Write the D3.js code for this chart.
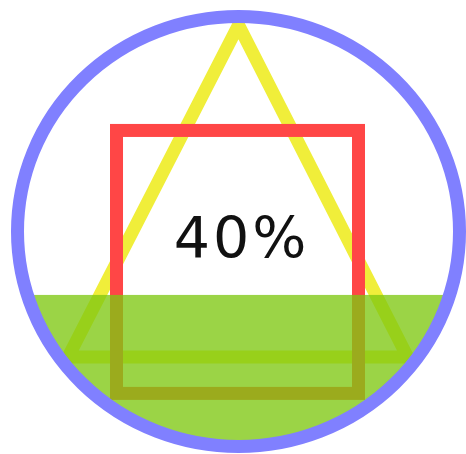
<!DOCTYPE html>
<html>
<head>
<meta charset="utf-8">
<script src="https://cdn.jsdelivr.net/npm/d3@7"></script>
<style>
  html, body { margin: 0; padding: 0; background: #fff; }
  svg { display: block; }
</style>
</head>
<body>
<div id="gauge"></div>
<script>
// 466 x 454

// valor del indicador
var fillValue = [40];
var fillLabels = ["40%"];

// figuras de fondo, en unidades del circulo (-1 .. 1)
var trianglePoints = [[0, 0.96], [-0.771, -0.584], [0.765, -0.584]];
var rectCorners = [[-0.552, 0.470], [0.543, -0.753]];

var width = 466,
    height = 454;

var cx = 238.5, cy = 231.5, rx = 221, ry = 215;

var svg = d3.select('#gauge').append('svg')
    .attr('width', width)
    .attr('height', height);

var x = d3.scaleLinear().domain([-1, 1]).range([cx - rx, cx + rx]);
var y = d3.scaleLinear().domain([-1, 1]).range([cy + ry, cy - ry]);

// nivel de llenado: 0..100 -> unidades del circulo
var level = d3.scaleLinear().domain([0, 100]).range([-1.03, 0.8075]);

svg.append('defs').append('clipPath')
    .attr('id', 'circleClip')
    .append('ellipse')
        .attr('cx', x(0))
        .attr('cy', y(0))
        .attr('rx', x(1) - x(0))
        .attr('ry', y(-1) - y(0));

var line = d3.line()
    .x(d => x(d[0]))
    .y(d => y(d[1]))
    .curve(d3.curveLinearClosed);

// triangulo
svg.append('path')
    .datum(trianglePoints)
    .attr('d', line)
    .attr('fill', 'none')
    .attr('stroke', '#f0ee3a')
    .attr('stroke-width', 13)
    .attr('stroke-linejoin', 'miter');

// cuadro
svg.append('rect')
    .attr('x', x(rectCorners[0][0]))
    .attr('y', y(rectCorners[0][1]))
    .attr('width', x(rectCorners[1][0]) - x(rectCorners[0][0]))
    .attr('height', y(rectCorners[1][1]) - y(rectCorners[0][1]))
    .attr('fill', 'none')
    .attr('stroke', '#ff4646')
    .attr('stroke-width', 13);

// texto
svg.selectAll('.label')
    .data(fillLabels)
    .enter()
    .append('text')
        .attr('class', 'label')
        .attr('x', 241.5)
        .attr('y', 258)
        .attr('text-anchor', 'middle')
        .attr('font-family', 'DejaVu Sans, sans-serif')
        .attr('font-size', '57px')
        .attr('letter-spacing', '3px')
        .attr('fill', '#111')
        .text(d => d);

// liquido
svg.selectAll('.fill')
    .data(fillValue)
    .enter()
    .append('rect')
        .attr('class', 'fill')
        .attr('clip-path', 'url(#circleClip)')
        .attr('x', x(-1))
        .attr('y', d => y(level(d)))
        .attr('width', x(1) - x(-1))
        .attr('height', d => y(-1.1) - y(level(d)))
        .attr('fill', 'rgb(127,200,18)')
        .attr('fill-opacity', 0.78);

// borde del circulo
svg.append('ellipse')
    .attr('cx', x(0))
    .attr('cy', y(0))
    .attr('rx', x(1) - x(0))
    .attr('ry', y(-1) - y(0))
    .attr('fill', 'none')
    .attr('stroke', '#8080ff')
    .attr('stroke-width', 13);
</script>
</body>
</html>
